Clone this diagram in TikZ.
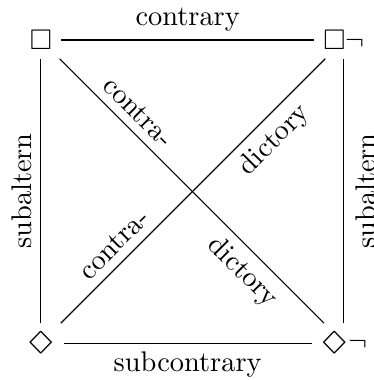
\documentclass[tikz,border=0pt]{standalone}
\usepackage{amssymb}
\usepackage{graphicx}
\usepackage{tikz}
\usetikzlibrary{positioning}

\newcommand{\possibly}{\scalebox{1.45}[0.95]{$\Diamond$}}

\begin{document}
\begin{tikzpicture}[
    node distance=3.75cm, on grid,
    modal/.style={inner sep=3pt},
    rel/.style={sloped, inner sep=3pt},
    side/.style={thin},
]
\useasboundingbox (-14.4pt,-119.7pt) rectangle (117.2pt,14.1pt);

% Corners
\node[modal] (box) {$\Box$};
\node[modal, right=of box] (boxnot) {$\Box\neg$};
\node[modal, below=of box] (dia) {\possibly};
\node[modal, below=of boxnot] (dianot) {\possibly$\neg$};

% Sides
\draw[side] (box) -- node[rel, above] {contrary} (boxnot);
\draw[side] (dia) -- node[rel, below] {subcontrary} (dianot);
\draw[side] (dia) -- node[rel, above] {subaltern} (box);
\draw[side] (dianot) -- node[rel, below, inner sep=4pt] {subaltern} (boxnot);

% Diagonals
\draw[side] (box) -- node[rel, above, near start] {contra-} node[rel, below, near end] {dictory} (dianot);
\draw[side] (dia) -- node[rel, above, near start] {contra-} node[rel, below, near end] {dictory} (boxnot);

\end{tikzpicture}
\end{document}
